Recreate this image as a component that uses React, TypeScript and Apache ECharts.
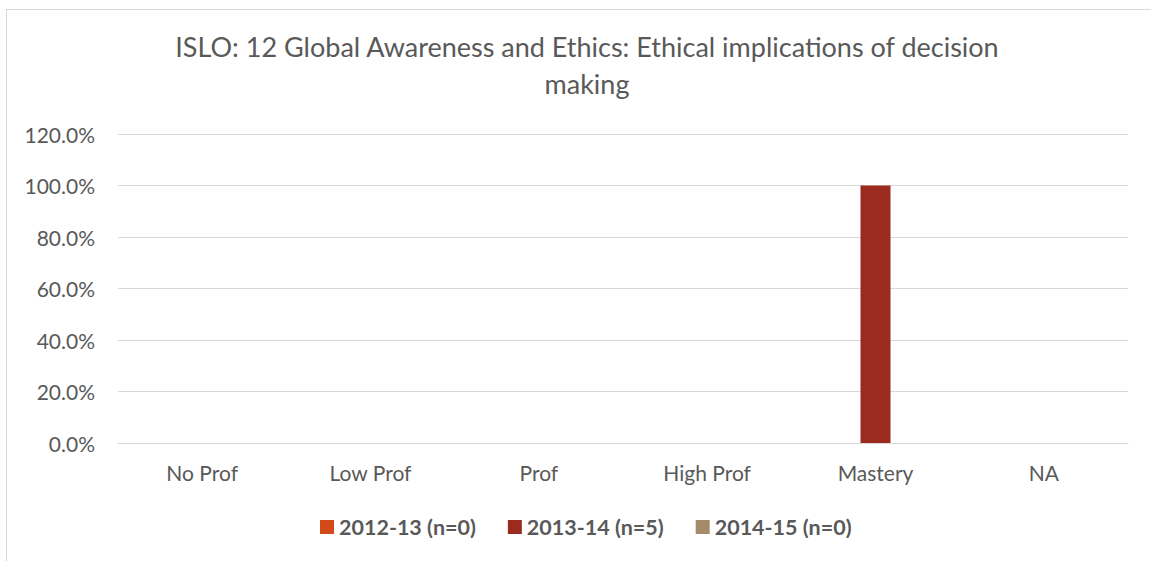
import React, { useEffect, useRef } from "react";
import * as echarts from "echarts";

const categories = ["No Prof", "Low Prof", "Prof", "High Prof", "Mastery", "NA"];
const seriesNames = ["2012-13 (n=0)", "2013-14 (n=5)", "2014-15 (n=0)"];
const values2012 = [0, 0, 0, 0, 0, 0];
const values2013 = [0, 0, 0, 0, 1.0, 0];
const values2014 = [0, 0, 0, 0, 0, 0];
const colors = ["#D24A18", "#9B2B1F", "#A48B69"];
const titleText = "ISLO: 12 Global Awareness and Ethics: Ethical implications of decision\nmaking";

export default function App() {
  const ref = useRef<HTMLDivElement>(null);
  useEffect(() => {
    const chart = echarts.init(ref.current!, null, { renderer: "svg" });
    const font = "Lato, 'Open Sans', sans-serif";
    const data = [values2012, values2013, values2014];
    chart.setOption({
      animation: false,
      backgroundColor: "#ffffff",
      title: {
        text: titleText,
        left: 582,
        textAlign: "center",
        top: 23,
        textStyle: {
          fontFamily: font,
          fontSize: 27,
          fontWeight: "normal",
          color: "#595959",
          lineHeight: 37,
        },
      },
      legend: {
        top: 511,
        left: 315,
        itemWidth: 14,
        itemHeight: 14,
        itemGap: 32,
        icon: "rect",
        data: seriesNames,
        textStyle: { fontFamily: font, fontSize: 21.5, fontWeight: "bold", color: "#595959" },
      },
      grid: { left: 118, right: 23, top: 134, bottom: 118, containLabel: false },
      xAxis: {
        type: "category",
        data: categories,
        axisLine: { show: true, lineStyle: { color: "#D9D9D9", width: 1 } },
        axisTick: { show: false },
        axisLabel: { fontFamily: font, fontSize: 21, color: "#595959", margin: 19 },
      },
      yAxis: {
        type: "value",
        min: 0,
        max: 1.2,
        interval: 0.2,
        axisLine: { show: false },
        axisTick: { show: false },
        splitLine: { lineStyle: { color: "#D9D9D9", width: 1 } },
        axisLabel: {
          fontFamily: font,
          fontSize: 21,
          color: "#595959",
          margin: 23,
          formatter: (v: number) => (v * 100).toFixed(1) + "%",
        },
      },
      series: seriesNames.map((name, i) => ({
        name,
        type: "bar",
        data: data[i],
        barWidth: 30,
        barGap: "0%",
        itemStyle: { color: colors[i] },
      })),
      graphic: [
        { type: "line", shape: { x1: 6, y1: 9.5, x2: 1151, y2: 9.5 }, style: { stroke: "#D9D9D9", lineWidth: 1 } },
        { type: "line", shape: { x1: 6.5, y1: 9, x2: 6.5, y2: 561 }, style: { stroke: "#D9D9D9", lineWidth: 1 } },
      ],
    });
    return () => chart.dispose();
  }, []);
  return <div ref={ref} style={{ position: "fixed", left: 0, top: 0, width: 1151, height: 561 }} />;
}
